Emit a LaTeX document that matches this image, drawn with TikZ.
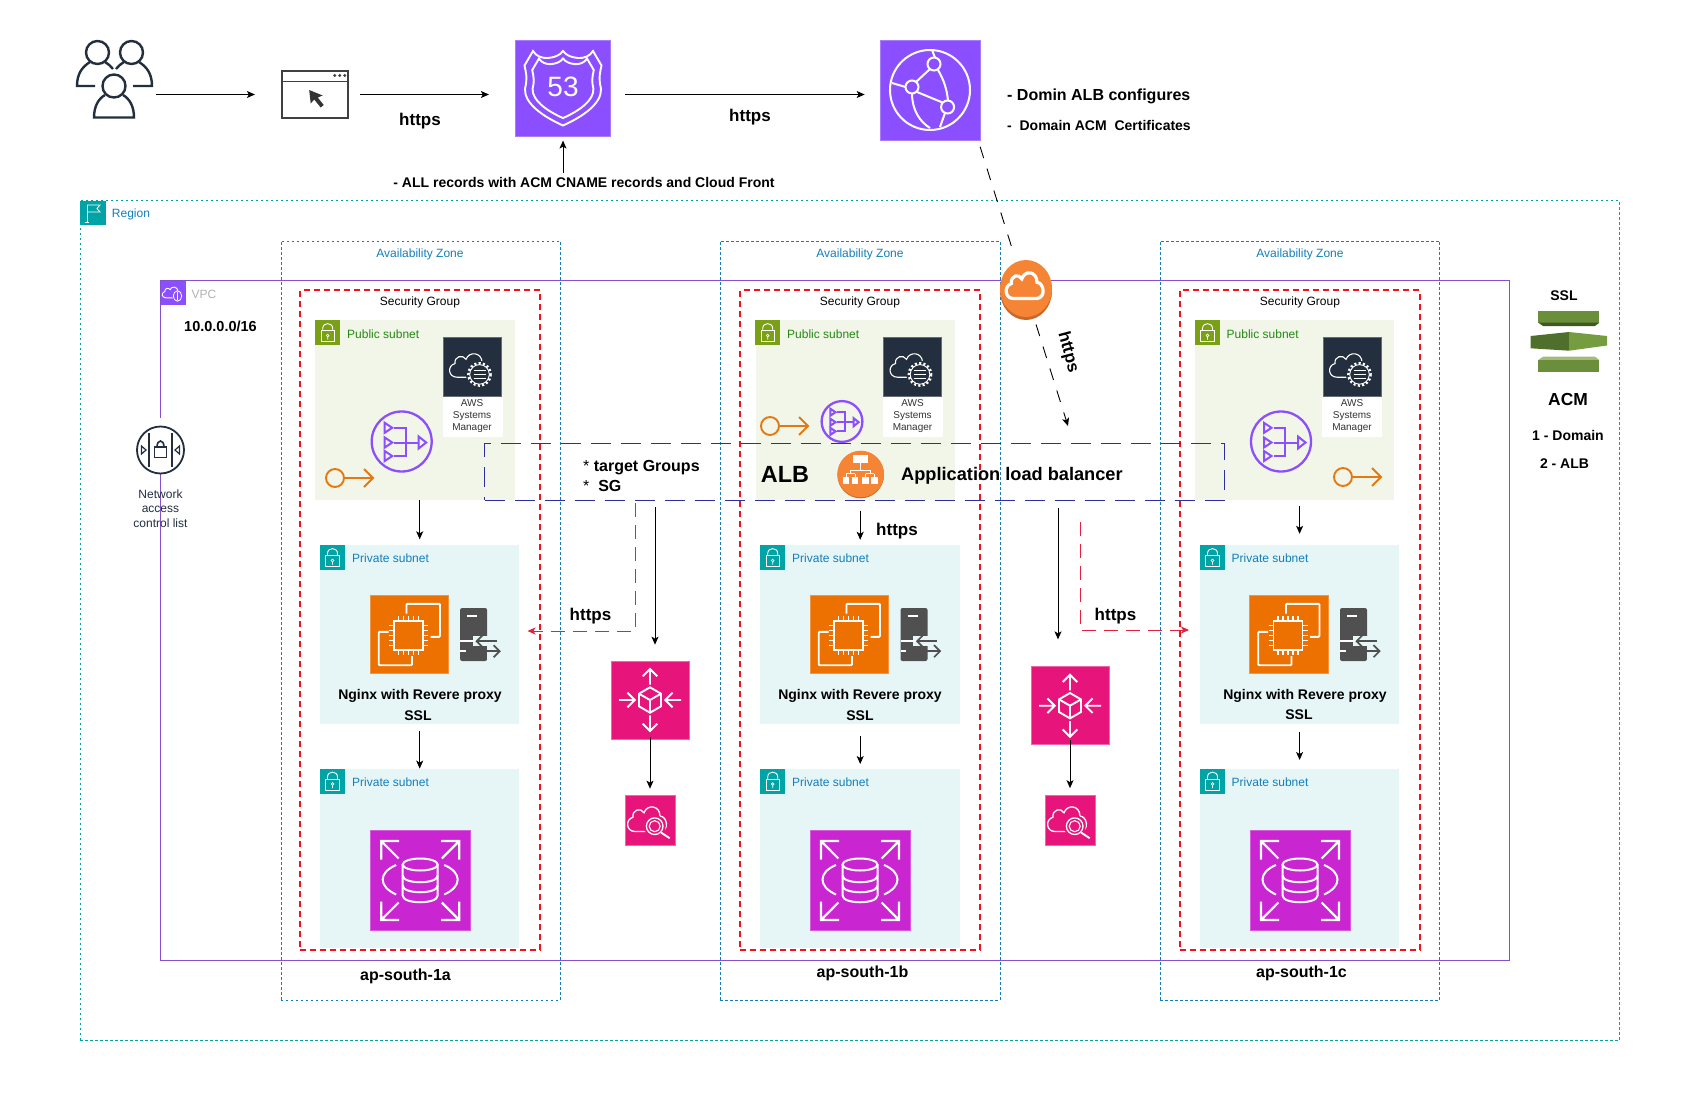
\documentclass[tikz,border=0pt]{standalone}
\usepackage{fontspec}
\setmainfont{Liberation Sans}
\usetikzlibrary{shapes.geometric,arrows.meta}
\definecolor{regioncol}{HTML}{00A4A6}
\definecolor{azcol}{HTML}{147EBA}
\definecolor{vpccol}{HTML}{8C4FFF}
\definecolor{vpcline}{HTML}{8450D0}
\definecolor{sgcol}{HTML}{F5101E}
\definecolor{pubfill}{HTML}{F2F6E8}
\definecolor{pubicon}{HTML}{7AA116}
\definecolor{pubtext}{HTML}{248814}
\definecolor{prvfill}{HTML}{E6F6F7}
\definecolor{ec2col}{HTML}{ED7100}
\definecolor{rdscol}{HTML}{C925D1}
\definecolor{pinkcol}{HTML}{E7157B}
\definecolor{navycol}{HTML}{232F3E}
\definecolor{servercol}{HTML}{505050}
\definecolor{gwcol}{HTML}{F58534}
\definecolor{gwshade}{HTML}{C8682A}
\definecolor{keycol}{HTML}{E47911}
\definecolor{albcol}{HTML}{2E2E9E}
\definecolor{reddash}{HTML}{E3213F}
\definecolor{acmmain}{HTML}{6B8E3A}
\definecolor{acmdark}{HTML}{3F5A20}
\definecolor{acmleft}{HTML}{4F6F2C}
\definecolor{acmright}{HTML}{759C3E}
\definecolor{acmlight}{HTML}{A3BC7C}
\newcommand{\cloudline}{(-15,10) .. controls (-24,10) and (-25,-1) .. (-17,-3) .. controls (-18,-10) and (-9,-12) .. (-6,-7) .. controls (-3,-15) and (10,-14) .. (10,-4) .. controls (17,-4) and (20,9) .. (10,10) -- cycle}
\newcommand{\shieldline}{(-30,-37.5) .. controls (-27,-32) and (-20,-30) .. (-15,-30.5) .. controls (-9,-31) and (-3,-33) .. (0,-37.5) .. controls (3,-33) and (9,-31) .. (15,-30.5) .. controls (20,-30) and (27,-32) .. (30,-37.5) -- (38.5,-23) .. controls (36,-12) and (36,-8) .. (38,0) .. controls (39,15) and (20,28) .. (0,37) .. controls (-20,28) and (-39,15) .. (-38,0) .. controls (-36,-8) and (-36,-12) .. (-38.5,-23) -- cycle}
\tikzset{
    regionbox/.style={rectangle,draw=regioncol,line width=.7pt,dash pattern=on 2.5pt off 2.5pt,inner sep=0pt,minimum width=1539pt,minimum height=840pt},
    azbox/.style={rectangle,draw=azcol,line width=.7pt,dash pattern=on 2.5pt off 2.5pt,inner sep=0pt,minimum width=279.5pt,minimum height=759.5pt},
    vpcbox/.style={rectangle,draw=vpcline,line width=1pt,inner sep=0pt,minimum width=1349.5pt,minimum height=679.5pt},
    sgbox/.style={rectangle,draw=sgcol,line width=2pt,dash pattern=on 6pt off 4pt,inner sep=0pt,minimum width=240pt,minimum height=659.5pt},
    pubbox/.style={rectangle,fill=pubfill,inner sep=0pt,minimum width=199.5pt,minimum height=180pt},
    prvbox/.style={rectangle,fill=prvfill,inner sep=0pt,minimum width=199.5pt,minimum height=179pt},
    albbox/.style={rectangle,draw=albcol,line width=.9pt,dash pattern=on 20pt off 10pt,inner sep=0pt,minimum width=739.5pt,minimum height=57pt},
    blankbox/.style={rectangle,inner sep=0pt,minimum width=#1},
    r53box/.style={rectangle,inner sep=0pt,fill=vpccol,draw=vpccol!75!white,line width=.7pt,minimum size=#1},
    ec2box/.style={rectangle,inner sep=0pt,fill=ec2col,draw=ec2col!75!white,line width=.7pt,minimum size=#1},
    rdsbox/.style={rectangle,inner sep=0pt,fill=rdscol,draw=rdscol!75!white,line width=.7pt,minimum size=#1},
    pinkbox/.style={rectangle,inner sep=0pt,fill=pinkcol,draw=pinkcol!65!white,line width=.7pt,minimum size=#1},
    ssmbox/.style={rectangle,inner sep=0pt,fill=navycol,draw=navycol!70!white,line width=.7pt,minimum width=58pt,minimum height=58.5pt},
    ssmback/.style={rectangle,inner sep=0pt,fill=white,minimum width=60pt,minimum height=41pt},
    lockbox/.style={rectangle,inner sep=0pt,fill=#1,minimum width=25pt,minimum height=25pt},
    serverbox/.style={rectangle,inner sep=0pt,fill=servercol,rounded corners=2pt,minimum width=27pt,minimum height=53pt},
    orangedisc/.style={circle,inner sep=0pt,fill=gwcol,minimum size=46.6pt},
    flow/.style={-{Stealth[length=8pt,width=7pt,inset=2pt]},line width=.9pt},
    dashflow/.style={-{Stealth[length=8pt,width=7pt,inset=2pt]},line width=.9pt,dash pattern=on 12pt off 11pt},
    redflow/.style={-{Stealth[length=8pt,width=7pt,inset=2pt]},draw=reddash,line width=1pt,dash pattern=on 14pt off 8pt},
    smalltxt/.style={inner sep=0pt,font=\fontsize{12}{14.5}\selectfont,align=center},
    tinytxt/.style={inner sep=0pt,font=\fontsize{10}{12}\selectfont,align=center,text=black!80},
    boldtxt/.style={inner sep=0pt,font=\fontsize{#1}{20}\selectfont\bfseries},
    usersglyph/.pic={
        \draw[navycol,line width=2.4pt] (-16.5,-27.5) circle[radius=11.5];
        \draw[navycol,line width=2.4pt] (17.5,-27.5) circle[radius=11.5];
        \draw[navycol,line width=2.4pt] (0,6) circle[radius=11.5];
        \draw[navycol,line width=2.4pt] (-24,-18) .. controls (-32,-13) and (-37,-6) .. (-37,6) -- (-19,6);
        \draw[navycol,line width=2.4pt] (-9,-18) .. controls (-6,-16) and (-3,-14) .. (-1,-11);
        \draw[navycol,line width=2.4pt] (25,-18) .. controls (33,-13) and (38,-6) .. (38,6) -- (19,6);
        \draw[navycol,line width=2.4pt] (10,-18) .. controls (7,-16) and (4,-14) .. (2,-11);
        \draw[navycol,line width=2.4pt] (-9,15) .. controls (-16,19) and (-20,27) .. (-20,37.5) -- (20,37.5) .. controls (20,27) and (16,19) .. (9,15);
    },
    browserglyph/.pic={
        \draw[black!75,line width=1.6pt] (-33,-13) -- (33,-13);
        \fill[black!75] (20,-19) circle[radius=1.6];
        \fill[black!75] (25,-19) circle[radius=1.6];
        \fill[black!75] (30,-19) circle[radius=1.6];
        \fill[black!80] (-5.5,-4.5) -- (-4,9) -- (-.5,5) -- (6,13) -- (9,10.5) -- (3,3) -- (8,1) -- cycle;
    },
    shieldglyph/.pic={
        \draw[white,line width=1.9pt] \shieldline;
        \draw[white,line width=1.9pt,scale=.8] \shieldline;
        \node[inner sep=0pt,text=white,font=\fontsize{28}{28}\selectfont] (shieldnum) at(0,-2){53};
    },
    cdnglyph/.pic={
        \draw[white,line width=2pt] (0,0) circle[radius=40];
        \draw[white,line width=2pt] (4,-26) circle[radius=6.5];
        \draw[white,line width=2pt] (-18,-3) circle[radius=6.5];
        \draw[white,line width=2pt] (17.6,17) circle[radius=6.5];
        \draw[white,line width=2pt] (-14,-8) -- (0,-21);
        \draw[white,line width=2pt] (-13,2) -- (12.5,12.5);
        \draw[white,line width=2pt] (-24.5,-3) -- (-38,-7);
        \draw[white,line width=2pt] (5,-32.5) -- (2,-40);
        \draw[white,line width=2pt] (8,-20) .. controls (14,-10) and (17,0) .. (18,10.5);
        \draw[white,line width=2pt] (-18,3.5) .. controls (-18,20) and (-10,32) .. (0,38);
        \draw[white,line width=2pt] (15,23) -- (10,37);
    },
    cpuglyph/.pic={
        \draw[white,line width=1.9pt] (-15.5,-13.5) rectangle (13.5,15.5);
        \draw[white,line width=1.9pt,rounded corners=1pt] (-3,-21) -- (-3,-30.7) -- (30.5,-30.7) -- (30.5,2.3) -- (21,2.3);
        \draw[white,line width=1.9pt,rounded corners=1pt] (-21,-2.7) -- (-30.8,-2.7) -- (-30.8,30.7) -- (2.5,30.7) -- (2.5,21.7);
        \draw[white,line width=1.4pt] (-11,-18.5) -- (-11,-13.5) (-6,-18.5) -- (-6,-13.5) (-1,-18.5) -- (-1,-13.5) (4,-18.5) -- (4,-13.5) (9,-18.5) -- (9,-13.5);
        \draw[white,line width=1.4pt] (-11,15.5) -- (-11,20.5) (-6,15.5) -- (-6,20.5) (-1,15.5) -- (-1,20.5) (4,15.5) -- (4,20.5) (9,15.5) -- (9,20.5);
        \draw[white,line width=1.4pt] (-20.5,-9) -- (-15.5,-9) (-20.5,-4) -- (-15.5,-4) (-20.5,1) -- (-15.5,1) (-20.5,6) -- (-15.5,6) (-20.5,11) -- (-15.5,11);
        \draw[white,line width=1.4pt] (13.5,-9) -- (18.5,-9) (13.5,-4) -- (18.5,-4) (13.5,1) -- (18.5,1) (13.5,6) -- (18.5,6) (13.5,11) -- (18.5,11);
    },
    serverglyph/.pic={
        \draw[white,line width=1.6pt] (-6.5,-18.8) -- (3.5,-18.8);
        \fill[prvfill] (-1,1) rectangle (28,11);
        \fill[prvfill] (13.5,11) rectangle (28,24);
        \fill[white] (-13.5,5.8) rectangle (5,7.6);
        \fill[white] (-13.5,15.8) rectangle (13.5,17.6);
        \draw[servercol,line width=1.7pt] (23,6.7) -- (3,6.7);
        \draw[servercol,line width=1.7pt] (9,.7) -- (3,6.7) -- (9,12.7);
        \draw[servercol,line width=1.7pt] (-8,16.7) -- (26,16.7);
        \draw[servercol,line width=1.7pt] (20,10.7) -- (26,16.7) -- (20,22.7);
    },
    dbglyph/.pic={
        \draw[white,line width=2pt] (0,-16) ellipse[x radius=17.5,y radius=6];
        \draw[white,line width=2pt] (-17.5,-16) -- (-17.5,15) .. controls (-17.5,24) and (17.5,24) .. (17.5,15) -- (17.5,-16);
        \draw[white,line width=2pt] (-17.5,-5) .. controls (-17.5,4) and (17.5,4) .. (17.5,-5);
        \draw[white,line width=2pt] (-17.5,5) .. controls (-17.5,14) and (17.5,14) .. (17.5,5);
        \draw[white,line width=2pt] (-24,-15.5) .. controls (-42,-8) and (-42,6) .. (-24,14);
        \draw[white,line width=2pt] (24,-15.5) .. controls (42,-8) and (42,6) .. (24,14);
        \draw[white,line width=2.2pt] (-21.6,-22) -- (-39,-39.5) (-39,-21) -- (-39,-39.5) -- (-21,-39.5);
        \draw[white,line width=2.2pt] (21.6,-22) -- (39,-39.5) (39,-21) -- (39,-39.5) -- (21,-39.5);
        \draw[white,line width=2.2pt] (-21.6,22) -- (-39,39.5) (-39,21) -- (-39,39.5) -- (-21,39.5);
        \draw[white,line width=2.2pt] (21.6,22) -- (39,39.5) (39,21) -- (39,39.5) -- (21,39.5);
    },
    cubeglyph/.pic={
        \draw[white,line width=1.9pt] (0,-12.7) -- (11,-6.3) -- (11,6.3) -- (0,12.7) -- (-11,6.3) -- (-11,-6.3) -- cycle;
        \draw[white,line width=1.9pt] (-11,-6.3) -- (0,0) -- (11,-6.3) (0,0) -- (0,12.7);
        \draw[white,line width=1.9pt] (0,-15.3) -- (0,-31) (-7.3,-23.7) -- (0,-31) -- (7.3,-23.7);
        \draw[white,line width=1.9pt] (0,15.3) -- (0,31) (-7.3,23.7) -- (0,31) -- (7.3,23.7);
        \draw[white,line width=1.9pt] (-31,0) -- (-15.3,0) (-22.6,-7.3) -- (-15.3,0) -- (-22.6,7.3);
        \draw[white,line width=1.9pt] (31,0) -- (15.3,0) (22.6,-7.3) -- (15.3,0) -- (22.6,7.3);
    },
    searchglyph/.pic={
        \draw[white,line width=1.3pt,yscale=1.1] \cloudline;
        \fill[pinkcol] (4.7,5.7) circle[radius=11];
        \draw[white,line width=1.3pt] (4.7,5.7) circle[radius=8.3];
        \draw[white,line width=1.1pt] (4.7,5.7) circle[radius=5.5];
        \draw[white,line width=1.9pt] (11,12) -- (19.7,17.7);
    },
    ssmglyph/.pic={
        \draw[white,line width=1.1pt,yscale=1.05] \cloudline;
        \fill[navycol] (7.5,7.7) circle[radius=13.5];
        \draw[white,line width=2.4pt,dash pattern=on 2pt off 2.3pt] (7.5,7.7) circle[radius=11.2];
        \draw[white,line width=.9pt] (7.5,7.7) circle[radius=9.8];
        \draw[white,line width=.9pt] (1.5,3.7) -- (13.5,3.7) (1.5,7.7) -- (13.5,7.7) (1.5,11.7) -- (13.5,11.7);
    },
    gwcloud/.pic={
        \draw[white,line width=3.2pt] \cloudline;
    },
    natglyph/.pic={
        \draw[vpccol,line width=2.3pt] (0,0) circle[radius=30];
        \draw[vpccol,line width=2pt] (-17,-18.7) -- (-9.5,-13.7) -- (-17,-8.7) -- cycle;
        \draw[vpccol,line width=2pt] (-17,-4) -- (-9.5,1) -- (-17,6) -- cycle;
        \draw[vpccol,line width=2pt] (-17,9.5) -- (-9.5,14.5) -- (-17,19.5) -- cycle;
        \draw[vpccol,line width=2pt] (-7.5,-13.7) -- (4,-13.7) -- (4,14.5) -- (-7.5,14.5) (-7.5,1) -- (17,1);
        \draw[vpccol,line width=2pt] (17,-5) -- (24.5,1) -- (17,7) -- cycle;
    },
    keyglyph/.pic={
        \draw[keycol,line width=1.9pt] (0,0) circle[radius=9];
        \draw[keycol,line width=1.9pt] (9,0) -- (38,0) (29,-9) -- (38,0) -- (29,9);
    },
    lockglyph/.pic={
        \draw[white,line width=.9pt] (-6.7,-1.7) rectangle (6.7,9);
        \draw[white,line width=.9pt] (-5,-1.7) -- (-5,-4) .. controls (-5,-10.5) and (5,-10.5) .. (5,-4) -- (5,-1.7);
        \draw[white,line width=.7pt] (0,3) circle[radius=1.3] (0,4.3) -- (0,7);
    },
    flagglyph/.pic={
        \draw[white,line width=.9pt] (-6,-8.5) -- (-6,9.5) (-8,9.5) -- (-4,9.5);
        \draw[white,line width=.9pt] (-6,-8) -- (7,-8) -- (4,-4.5) -- (7,-1) -- (-6,-1);
    },
    vpcglyph/.pic={
        \draw[white,line width=.9pt,scale=.48] \cloudline;
        \fill[vpccol] (4.5,3) circle[radius=5.5];
        \draw[white,line width=.8pt] (4.5,3) ellipse[x radius=4.2,y radius=5.2];
        \draw[white,line width=.7pt] (4.5,-1) -- (4.5,7);
    },
    naclglyph/.pic={
        \draw[navycol,line width=1.6pt] (-11.4,-17) -- (-11.4,17) (11.4,-17) -- (11.4,17);
        \draw[navycol,line width=1.6pt] (-6,-3) rectangle (6,7.5);
        \draw[navycol,line width=1.6pt] (-3.5,-3) .. controls (-3.5,-11) and (3.5,-11) .. (3.5,-3);
        \draw[navycol,line width=1.2pt] (-19,-4) -- (-14.5,0) -- (-19,4) -- cycle;
        \draw[navycol,line width=1.2pt] (19,-4) -- (14.5,0) -- (19,4) -- cycle;
    },
    albglyph/.pic={
        \fill[white] (-7.3,-19) rectangle (7.7,-11.3);
        \draw[white,line width=1pt] (0,-11.3) -- (0,-4) (-10,-4) -- (10,-4) (-10,-4) -- (-10,-.5) (10,-4) -- (10,-.5) (-14.7,-.5) -- (-5.7,-.5) (5,-.5) -- (13.7,-.5) (-14.7,-.5) -- (-14.7,3) (-5.7,-.5) -- (-5.7,3) (5,-.5) -- (5,3) (13.7,-.5) -- (13.7,3);
        \fill[white] (-18,3) rectangle (-11.4,10);
        \fill[white] (-9,3) rectangle (-2.4,10);
        \fill[white] (1.7,3) rectangle (8.3,10);
        \fill[white] (10.4,3) rectangle (17,10);
    },
    acmglyph/.pic={
        \fill[acmmain] (-30.7,-30.3) rectangle (30.3,-18.3);
        \fill[acmdark] (-30.7,-18.3) -- (30.3,-18.3) -- (26,-15) -- (-26,-15) -- cycle;
        \fill[acmleft] (-38.3,-5) -- (0,-9) -- (0,9.7) -- (-38.3,7.3) -- cycle;
        \fill[acmright] (38,-5) -- (0,-9) -- (0,9.7) -- (38,4.5) -- cycle;
        \fill[acmlight] (-26,15.7) -- (26,15.7) -- (30.3,19) -- (-30.7,19) -- cycle;
        \fill[acmmain] (-30.7,19) rectangle (30.3,30.7);
    },
}
\begin{document}
\begin{tikzpicture}[x=1pt,y=-1pt]
    \useasboundingbox[fill=white] (0,0) rectangle (1701,1100);
    \node[regionbox] (region) at(849.5,620.7){};
    \node[vpcbox] (vpc) at(835.2,620.7){};
    \node[blankbox=8pt,fill=white,minimum height=10pt] (naclgap) at(160.5,423){};
    \node[azbox] (azone1) at(420.7,620.7){};
    \node[azbox] (azone2) at(860.2,620.7){};
    \node[azbox] (azone3) at(1300,620.7){};
    \node[lockbox=regioncol,minimum width=26pt,minimum height=24pt] (regionflag) at(93,213){};
    \pic at(regionflag){flagglyph};
    \node[smalltxt,text=azcol] (regiontxt) at(131,214){Region};
    \node[lockbox=vpccol,minimum height=24pt] (vpcflag) at(173,293){};
    \pic at(vpcflag){vpcglyph};
    \node[smalltxt,text=black!30] (vpctxt) at(204,294){VPC};
    \node[boldtxt=14.5] (cidr) at(220.5,326){10.0.0.0/16};
    \node[smalltxt,text=azcol] (aztxt1) at(420,254.5){Availability Zone};
    \node[smalltxt,text=azcol] (aztxt2) at(860,254.5){Availability Zone};
    \node[smalltxt,text=azcol] (aztxt3) at(1300,254.5){Availability Zone};
    \node[sgbox] (sgroup1) at(420,620.2){};
    \node[sgbox] (sgroup2) at(860,620.2){};
    \node[sgbox] (sgroup3) at(1299.5,620.2){};
    \node[smalltxt] (sgtxt1) at(420,302.5){Security Group};
    \node[smalltxt] (sgtxt2) at(860,302.5){Security Group};
    \node[smalltxt] (sgtxt3) at(1300,302.5){Security Group};
    \node[pubbox] (pub1) at(415.2,410){};
    \node[pubbox] (pub2) at(855.3,410){};
    \node[pubbox] (pub3) at(1294.5,410){};
    \node[prvbox] (prv1) at(419.7,634.5){};
    \node[prvbox] (prv2) at(860.2,634.5){};
    \node[prvbox] (prv3) at(1299.6,634.5){};
    \node[prvbox] (dbnet1) at(419.7,858.3){};
    \node[prvbox] (dbnet2) at(860.2,858.3){};
    \node[prvbox] (dbnet3) at(1299.6,858.3){};
    \node[lockbox=pubicon] (publock1) at(327.7,332.5){};
    \node[lockbox=pubicon] (publock2) at(767.7,332.5){};
    \node[lockbox=pubicon] (publock3) at(1207.5,332.5){};
    \node[lockbox=regioncol] (prvlock1) at(332.5,557.5){};
    \node[lockbox=regioncol] (prvlock2) at(772.7,557.5){};
    \node[lockbox=regioncol] (prvlock3) at(1212.5,557.5){};
    \node[lockbox=regioncol] (dblock1) at(332.5,781){};
    \node[lockbox=regioncol] (dblock2) at(772.7,781){};
    \node[lockbox=regioncol] (dblock3) at(1212.5,781){};
    \pic at(publock1){lockglyph};
    \pic at(publock2){lockglyph};
    \pic at(publock3){lockglyph};
    \pic at(prvlock1){lockglyph};
    \pic at(prvlock2){lockglyph};
    \pic at(prvlock3){lockglyph};
    \pic at(dblock1){lockglyph};
    \pic at(dblock2){lockglyph};
    \pic at(dblock3){lockglyph};
    \node[smalltxt,text=pubtext,anchor=west] (pubtxt1) at(347,334){Public subnet};
    \node[smalltxt,text=pubtext,anchor=west] (pubtxt2) at(787,334){Public subnet};
    \node[smalltxt,text=pubtext,anchor=west] (pubtxt3) at(1226.5,334){Public subnet};
    \node[smalltxt,text=azcol,anchor=west] (prvtxt1) at(352,558){Private subnet};
    \node[smalltxt,text=azcol,anchor=west] (prvtxt2) at(792,558){Private subnet};
    \node[smalltxt,text=azcol,anchor=west] (prvtxt3) at(1231.5,558){Private subnet};
    \node[smalltxt,text=azcol,anchor=west] (dbtxt1) at(352,782){Private subnet};
    \node[smalltxt,text=azcol,anchor=west] (dbtxt2) at(792,782){Private subnet};
    \node[smalltxt,text=azcol,anchor=west] (dbtxt3) at(1231.5,782){Private subnet};
    \node[ssmback] (ssmbg1) at(472.5,416.5){};
    \node[ssmback] (ssmbg2) at(912.5,416.5){};
    \node[ssmback] (ssmbg3) at(1352,416.5){};
    \node[ssmbox] (ssm1) at(472,366.7){};
    \node[ssmbox] (ssm2) at(912.5,366.7){};
    \node[ssmbox] (ssm3) at(1352,366.7){};
    \pic at(ssm1){ssmglyph};
    \pic at(ssm2){ssmglyph};
    \pic at(ssm3){ssmglyph};
    \node[tinytxt] (ssmtxt1) at(472,416){AWS\\Systems\\Manager};
    \node[tinytxt] (ssmtxt2) at(912.5,416){AWS\\Systems\\Manager};
    \node[tinytxt] (ssmtxt3) at(1352,416){AWS\\Systems\\Manager};
    \coordinate (nat1) at(401.7,441.5);
    \coordinate (nat2) at(842,421.5);
    \coordinate (nat3) at(1281,441.5);
    \pic at(nat1){natglyph};
    \pic[scale=.68] at(nat2){natglyph};
    \pic at(nat3){natglyph};
    \coordinate (key1) at(335,478);
    \coordinate (key2) at(770,426);
    \coordinate (key3) at(1343,477);
    \pic at(key1){keyglyph};
    \pic at(key2){keyglyph};
    \pic at(key3){keyglyph};
    \node[ec2box=78.5pt] (ec1) at(409.5,634.5){};
    \node[ec2box=78.5pt] (ec2) at(849.5,634.5){};
    \node[ec2box=78.5pt] (ec3) at(1289,634.5){};
    \pic at(ec1){cpuglyph};
    \pic at(ec2){cpuglyph};
    \pic at(ec3){cpuglyph};
    \node[serverbox] (srv1) at(473.6,634.5){};
    \node[serverbox] (srv2) at(914,634.5){};
    \node[serverbox] (srv3) at(1353.5,634.5){};
    \pic at(srv1){serverglyph};
    \pic at(srv2){serverglyph};
    \pic at(srv3){serverglyph};
    \node[boldtxt=14] (nginx1) at(420,696){Nginx with Revere proxy};
    \node[boldtxt=14] (nginx2) at(860,696){Nginx with Revere proxy};
    \node[boldtxt=14] (nginx3) at(1305,696){Nginx with Revere proxy};
    \node[boldtxt=14] (ssl1) at(418,716){SSL};
    \node[boldtxt=14] (ssl2) at(860,716){SSL};
    \node[boldtxt=14] (ssl3) at(1299,715){SSL};
    \node[rdsbox=100pt] (rds1) at(420.2,880.5){};
    \node[rdsbox=100pt] (rds2) at(860,880.5){};
    \node[rdsbox=100pt] (rds3) at(1300,880.5){};
    \pic at(rds1){dbglyph};
    \pic at(rds2){dbglyph};
    \pic at(rds3){dbglyph};
    \node[boldtxt=16] (apsouth1) at(405.5,976){ap-south-1a};
    \node[boldtxt=16] (apsouth2) at(862.5,973){ap-south-1b};
    \node[boldtxt=16] (apsouth3) at(1301.5,973){ap-south-1c};
    \node[pinkbox=78pt] (lb1) at(650,700){};
    \node[pinkbox=78pt] (lb2) at(1070,705.7){};
    \pic at(lb1){cubeglyph};
    \pic at(lb2){cubeglyph};
    \node[pinkbox=50pt] (search1) at(650,820.5){};
    \node[pinkbox=50pt] (search2) at(1070,820.5){};
    \pic at(search1){searchglyph};
    \pic at(search2){searchglyph};
    \node[blankbox=78pt,minimum height=78pt] (users) at(114,80){};
    \pic at(users){usersglyph};
    \node[rectangle,inner sep=0pt,draw=black!75,line width=1.6pt,minimum width=66pt,minimum height=47pt] (browser) at(314.7,94.5){};
    \pic at(browser){browserglyph};
    \node[r53box=95.5pt] (route53) at(563,88.5){};
    \pic at(route53){shieldglyph};
    \node[r53box=100pt] (cfront) at(930,90){};
    \pic at(cfront){cdnglyph};
    \node[boldtxt=17] (https1) at(420,121){https};
    \node[boldtxt=17] (https2) at(750,117){https};
    \node[boldtxt=14,inner sep=4pt] (records) at(584,182){- ALL records with ACM CNAME records and Cloud Front};
    \node[boldtxt=16,anchor=west] (cfnote1) at(1007,96.5){- Domin ALB configures};
    \node[boldtxt=14,anchor=west] (cfnote2) at(1007,125){-~ Domain ACM~ Certificates};
    \node[ellipse,inner sep=0pt,fill=gwshade,minimum width=52pt,minimum height=58pt] (gwshadow) at(1026,291){};
    \node[ellipse,inner sep=0pt,fill=gwcol,minimum width=52pt,minimum height=57pt] (gateway) at(1026,288.5){};
    \pic[xscale=.95,yscale=1.15] at(1027.5,287){gwcloud};
    \node[boldtxt=17,rotate=-75] (https3) at(1068,352){https};
    \node[blankbox=77pt,minimum height=62pt] (acm) at(1569,341){};
    \pic at(acm){acmglyph};
    \node[boldtxt=14] (ssltop) at(1564,296){SSL};
    \node[boldtxt=17.4] (acmtxt) at(1568,400){ACM};
    \node[boldtxt=14] (acmnote1) at(1568,435){1 - Domain};
    \node[boldtxt=14] (acmnote2) at(1564.5,464){2 - ALB};
    \node[circle,inner sep=0pt,fill=white,draw=navycol,line width=1.8pt,minimum size=47pt] (nacl) at(160.5,450){};
    \pic at(nacl){naclglyph};
    \node[smalltxt,text=navycol] (nacltxt) at(160.5,508.5){Network\\access\\control list};
    \node[albbox] (albfront) at(854.25,471.5){};
    \node[boldtxt=23.4] (albtxt) at(785,474){ALB};
    \node[circle,inner sep=0pt,fill=gwshade,minimum size=46.6pt] (albshadow) at(860.7,475){};
    \node[orangedisc] (albicon) at(860.7,474){};
    \pic at(albicon){albglyph};
    \node[boldtxt=18.2,anchor=west] (albname) at(901,475.5){Application load balancer};
    \node[boldtxt=16,align=left,anchor=west] (targets) at(583,475.5){\textmd{*} target Groups\\\textmd{*}~ SG};
    \node[boldtxt=17] (https4) at(590.5,616){https};
    \node[boldtxt=17] (https5) at(897,531){https};
    \node[boldtxt=17] (https6) at(1115.5,616){https};
    \draw[flow,shorten <=3pt,shorten >=26pt] (users.east |- browser.west) -- (browser.west);
    \draw[flow,shorten <=11.5pt,shorten >=26pt] (browser.east) -- (route53.west |- browser.east);
    \draw[flow,shorten <=14pt,shorten >=15pt] (route53.east |- browser.east) -- (cfront.west |- browser.east);
    \draw[flow,shorten >=4pt] (records.north -| route53.south) -- (route53.south);
    \coordinate (cfout) at(978,140);
    \draw[dashflow,-,shorten <=7pt,shorten >=9pt] (cfout) -- (gateway.110);
    \coordinate (albdrop) at(1068,426);
    \draw[dashflow,shorten <=9pt] (gateway.-75) -- (albdrop);
    \draw[flow,shorten >=5.5pt] (pub1.south -| prv1.north) -- (prv1.north);
    \draw[flow,shorten <=10.5pt,shorten >=5pt] (pub2.south -| prv2.north) -- (prv2.north);
    \draw[flow,shorten <=6pt,shorten >=11pt] (pub3.south -| prv3.north) -- (prv3.north);
    \draw[flow,shorten <=6.7pt] (prv1.south) -- (dbnet1.north);
    \draw[flow,shorten <=12pt,shorten >=4.6pt] (prv2.south) -- (dbnet2.north);
    \draw[flow,shorten <=8pt,shorten >=8.6pt] (prv3.south) -- (dbnet3.north);
    \coordinate (redleft) at(635,631);
    \coordinate (redright) at(1080,630);
    \coordinate (prvin1) at(527.5,631);
    \coordinate (prvin3) at(1189,630);
    \draw[redflow,shorten <=3pt] (albfront.south -| redleft) -- (redleft) -- (prvin1);
    \draw[redflow,shorten <=22pt] (albfront.south -| redright) -- (redright) -- (prvin3);
    \coordinate (lbfeed1) at(655,507);
    \coordinate (lbfeed2) at(1058,508);
    \draw[flow,shorten >=16pt] (lbfeed1) -- (lbfeed1 |- lb1.north);
    \draw[flow,shorten >=27pt] (lbfeed2) -- (lbfeed2 |- lb2.north);
    \draw[flow,shorten <=-2pt,shorten >=6.5pt] (lb1) -- (search1);
    \draw[flow,shorten <=-5pt,shorten >=7pt] (lb2) -- (search2);
\end{tikzpicture}
\end{document}
